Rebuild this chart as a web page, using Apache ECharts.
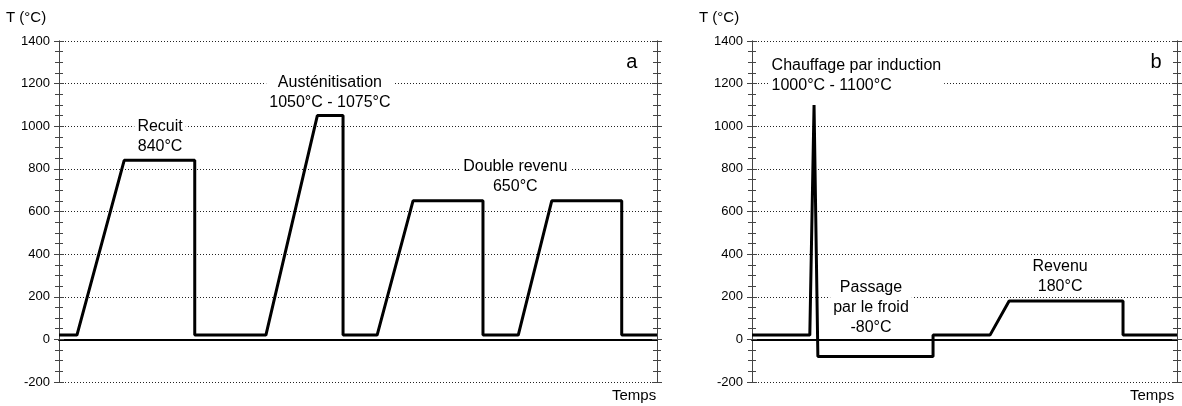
<!DOCTYPE html>
<html>
<head>
<meta charset="utf-8">
<script src="https://cdn.jsdelivr.net/npm/echarts@6/dist/echarts.min.js"></script>
<style>html,body{margin:0;padding:0;background:#fff;}#c{width:1182px;height:406px;}</style>
</head>
<body>
<div id="c"></div>
<script>
// Panel a: heat treatment cycle (time in arbitrary units 0-100)
const timeA = [0, 3.0, 10.9, 22.7, 22.7, 34.6, 43.2, 47.5, 47.5, 53.2, 59.2, 70.9, 70.9, 76.8, 82.4, 94.1, 94.1, 100];
const tempA = [20, 20, 840, 840, 20, 20, 1050, 1050, 20, 20, 650, 650, 20, 20, 650, 650, 20, 20];
// Panel b
const timeB = [0, 13.6, 14.6, 15.5, 42.6, 42.6, 56.0, 60.5, 87.3, 87.3, 100];
const tempB = [20, 20, 1100, -80, -80, 20, 20, 180, 180, 20, 20];
// Y ticks
const yMin = -200, yMax = 1400, yStep = 200;
// Annotations
const notesA = [
  {text: 'Recuit\n840°C', t: 16.9, temp: 950, align: 'center'},
  {text: 'Austénitisation\n1050°C - 1075°C', t: 45.3, temp: 1160, align: 'center'},
  {text: 'Double revenu\n650°C', t: 76.3, temp: 762, align: 'center'}
];
const notesB = [
  {text: 'Chauffage par induction\n1000°C - 1100°C', t: 3.9, temp: 1236, align: 'left'},
  {text: 'Passage\npar le froid\n-80°C', t: 28.0, temp: 150, align: 'center'},
  {text: 'Revenu\n180°C', t: 72.5, temp: 295, align: 'center'}
];
const panelLetters = [{text: 'a', t: 95.8, temp: 1300}, {text: 'b', t: 95.1, temp: 1297}];
const xLabel = 'Temps';
const yLabel = 'T (°C)';

const FONT = 'Liberation Sans, Arial, sans-serif';

function yAxesFor(gridIndex) {
  const base = {
    type: 'value', gridIndex: gridIndex, min: yMin, max: yMax, interval: yStep,
    axisLine: {show: true, onZero: false, lineStyle: {color: '#444', width: 1}},
    axisTick: {show: true, length: 5, lineStyle: {color: '#444'}},
    minorTick: {show: true, splitNumber: 4, length: 4, lineStyle: {color: '#444'}},
    splitLine: {show: false},
    axisLabel: {show: false}
  };
  return [
    Object.assign({}, base, {
      position: 'left',
      axisLabel: {show: true, fontFamily: FONT, fontSize: 13, color: '#000', margin: 9,
                  formatter: v => String(v)},
      splitLine: {show: true, lineStyle: {type: [1, 2], color: '#222', width: 1}}
    }),
    Object.assign({}, base, {position: 'left', axisTick: Object.assign({}, base.axisTick, {inside: true})}),
    Object.assign({}, base, {position: 'right'}),
    Object.assign({}, base, {position: 'right', axisTick: Object.assign({}, base.axisTick, {inside: true})})
  ];
}

function xAxisFor(gridIndex, yIdx) {
  return {
    type: 'value', gridIndex: gridIndex, min: 0, max: 100,
    axisLine: {show: true, onZero: true, onZeroAxisIndex: yIdx, lineStyle: {color: '#000', width: 2}},
    axisTick: {show: false}, axisLabel: {show: false}, splitLine: {show: false}
  };
}

function notePoints(notes) {
  return notes.map(n => ({
    coord: [n.t, n.temp],
    label: {
      show: true, formatter: n.text, position: 'inside', align: n.align,
      fontFamily: FONT, fontSize: 16, lineHeight: 20, color: '#000',
      backgroundColor: '#fff', padding: [0, 3, 0, 3]
    }
  }));
}

function letterPoint(l) {
  return {
    coord: [l.t, l.temp],
    label: {show: true, formatter: l.text, position: 'inside', fontFamily: FONT, fontSize: 20, color: '#000'}
  };
}

function zip(a, b) { return a.map((v, i) => [v, b[i]]); }

const option = {
  animation: false,
  grid: [
    {left: 59, top: 41, width: 598, height: 341},
    {left: 752, top: 41, width: 425, height: 341}
  ],
  xAxis: [xAxisFor(0, 0), xAxisFor(1, 4)],
  yAxis: yAxesFor(0).concat(yAxesFor(1)),
  series: [
    {
      type: 'line', xAxisIndex: 0, yAxisIndex: 0, data: zip(timeA, tempA),
      showSymbol: false, symbol: 'none', lineStyle: {color: '#000', width: 3}, silent: true,
      markPoint: {symbol: 'circle', symbolSize: 0, data: notePoints(notesA).concat([letterPoint(panelLetters[0])])}
    },
    {
      type: 'line', xAxisIndex: 1, yAxisIndex: 4, data: zip(timeB, tempB),
      showSymbol: false, symbol: 'none', lineStyle: {color: '#000', width: 3}, silent: true,
      markPoint: {symbol: 'circle', symbolSize: 0, data: notePoints(notesB).concat([letterPoint(panelLetters[1])])}
    }
  ],
  graphic: [
    {type: 'text', left: 6, top: 10, style: {text: yLabel, fontFamily: FONT, fontSize: 15, fill: '#000'}},
    {type: 'text', left: 699, top: 10, style: {text: yLabel, fontFamily: FONT, fontSize: 15, fill: '#000'}},
    {type: 'text', left: 612, top: 388, style: {text: xLabel, fontFamily: FONT, fontSize: 15, fill: '#000'}},
    {type: 'text', left: 1130, top: 388, style: {text: xLabel, fontFamily: FONT, fontSize: 15, fill: '#000'}}
  ]
};

const chart = echarts.init(document.getElementById('c'), null, {renderer: 'canvas'});
chart.setOption(option);
</script>
</body>
</html>
